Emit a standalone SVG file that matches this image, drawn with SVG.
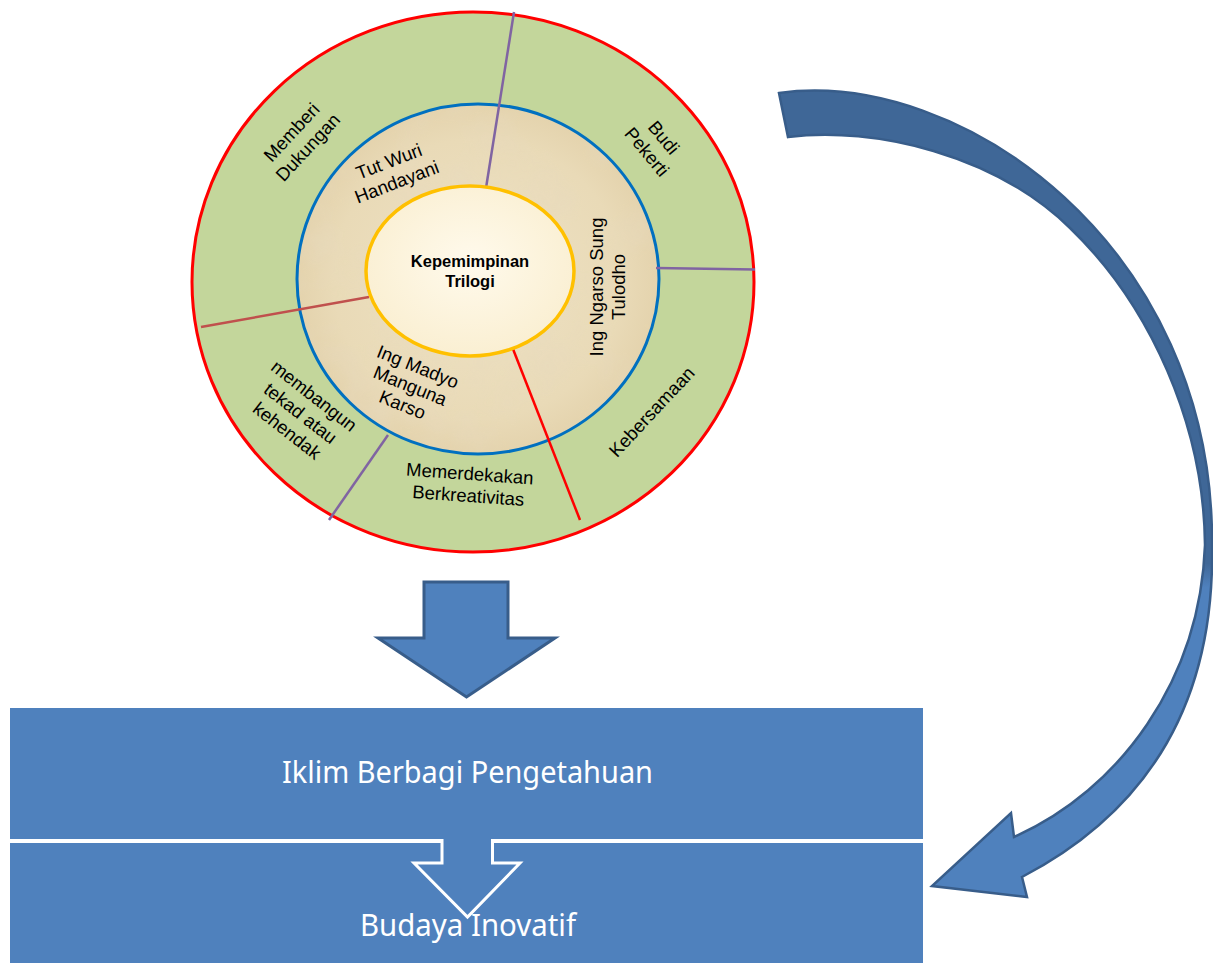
<svg xmlns="http://www.w3.org/2000/svg" width="1213" height="963" viewBox="0 0 1213 963">
<style>
.lbl{font-family:"Liberation Sans",Arial,sans-serif;font-size:18.5px;fill:#000;text-anchor:middle}
.ctr{font-family:"Liberation Sans",Arial,sans-serif;font-size:16.5px;font-weight:bold;fill:#000;text-anchor:middle}
.box{fill:#4f81bd}
.boxtxt{font-family:"Noto Sans","Open Sans",sans-serif;font-size:30px;fill:#fff;text-anchor:middle}
.div{stroke-width:2.5;fill:none}
.purple{stroke:#8064a2}
.redl{stroke:#ff0000}
.brown{stroke:#c0504d}
</style>
<defs>
<radialGradient id="beige" cx="0.5" cy="0.5" r="0.5">
<stop offset="0" stop-color="#eee2c5"/>
<stop offset="0.8" stop-color="#e9dab7"/>
<stop offset="1" stop-color="#e4d3ad"/>
</radialGradient>
<radialGradient id="cream" cx="0.5" cy="0.45" r="0.55">
<stop offset="0" stop-color="#fffaec"/>
<stop offset="1" stop-color="#faefd2"/>
</radialGradient>
<linearGradient id="curve" gradientUnits="userSpaceOnUse" x1="0" y1="0" x2="0" y2="963">
<stop offset="0" stop-color="#3f6797"/>
<stop offset="0.585" stop-color="#3f6797"/>
<stop offset="0.61" stop-color="#4f81bd"/>
<stop offset="1" stop-color="#4f81bd"/>
</linearGradient>
<filter id="paper" x="0" y="0" width="100%" height="100%">
<feTurbulence type="fractalNoise" baseFrequency="0.018" numOctaves="3" seed="7"/>
<feColorMatrix type="matrix" values="0 0 0 0 0.80  0 0 0 0 0.70  0 0 0 0 0.52  0 0 0 1.6 -0.7"/>
<feComposite in2="SourceGraphic" operator="in"/>
</filter>
</defs>

<g id="ring-outer">
<ellipse cx="473" cy="282" rx="281" ry="270" fill="#c3d69b" stroke="#ff0000" stroke-width="3"/>
</g>
<g id="ring-middle">
<ellipse cx="478" cy="279" rx="181" ry="175" fill="url(#beige)"/>
<ellipse cx="478" cy="279" rx="181" ry="175" fill="#fff" filter="url(#paper)" opacity="0.7"/>
<ellipse cx="478" cy="279" rx="181" ry="175" fill="none" stroke="#0070c0" stroke-width="3"/>
</g>
<g id="dividers">
<line class="div purple" x1="514" y1="12" x2="486" y2="188"/>
<line class="div purple" x1="656" y1="268" x2="755" y2="269.5"/>
<line class="div redl" x1="513" y1="349" x2="580" y2="520"/>
<line class="div purple" x1="388" y1="435" x2="329" y2="520"/>
<line class="div brown" x1="369" y1="297" x2="201" y2="327"/>
</g>
<g id="center">
<ellipse cx="470" cy="271" rx="104" ry="85" fill="url(#cream)" stroke="#ffc000" stroke-width="3.5"/>
<text class="ctr" x="470" y="267">Kepemimpinan</text>
<text class="ctr" x="470" y="287">Trilogi</text>
</g>

<g id="label-memberi-dukungan" transform="translate(300,140) rotate(-47)">
<text class="lbl" x="0" y="-5">Memberi</text>
<text class="lbl" x="0" y="17">Dukungan</text>
</g>
<g id="label-tut-wuri" transform="translate(393,172) rotate(-21)">
<text class="lbl" x="0" y="-5">Tut Wuri</text>
<text class="lbl" x="0" y="17">Handayani</text>
</g>
<g id="label-budi-pekerti" transform="translate(655,145) rotate(50)">
<text class="lbl" x="0" y="-5">Budi</text>
<text class="lbl" x="0" y="17">Pekerti</text>
</g>
<g id="label-ing-ngarso" transform="translate(608,287) rotate(-90)">
<text class="lbl" x="0" y="-5">Ing Ngarso Sung</text>
<text class="lbl" x="0" y="17">Tulodho</text>
</g>
<g id="label-kebersamaan" transform="translate(652,412) rotate(-47)">
<text class="lbl" x="0" y="6">Kebersamaan</text>
</g>
<g id="label-memerdekakan" transform="translate(469,485) rotate(4)">
<text class="lbl" x="0" y="-5">Memerdekakan</text>
<text class="lbl" x="0" y="17">Berkreativitas</text>
</g>
<g id="label-ing-madyo" transform="translate(410,386) rotate(22)">
<text class="lbl" x="0" y="-14.5">Ing Madyo</text>
<text class="lbl" x="0" y="6">Manguna</text>
<text class="lbl" x="0" y="26.5">Karso</text>
</g>
<g id="label-membangun" transform="translate(300,414) rotate(38)">
<text class="lbl" x="0" y="-16.5">membangun</text>
<text class="lbl" x="0" y="5.5">tekad atau</text>
<text class="lbl" x="0" y="27.5">kehendak</text>
</g>

<g id="box-iklim">
<rect class="box" x="10" y="708" width="913" height="133"/>
<text class="boxtxt" x="467.5" y="783" textLength="371" lengthAdjust="spacingAndGlyphs">Iklim Berbagi Pengetahuan</text>
</g>
<g id="box-budaya">
<rect class="box" x="10" y="841" width="913" height="122"/>
<text class="boxtxt" x="468" y="936" textLength="216" lengthAdjust="spacingAndGlyphs">Budaya Inovatif</text>
</g>

<g id="connectors">
<path d="M424,582 L508,582 L508,638 L555,638 L466.5,697 L378,638 L424,638 Z" fill="#4f81bd" stroke="#385d8a" stroke-width="3" stroke-linejoin="miter"/>
<line x1="10" y1="841" x2="442" y2="841" stroke="#ffffff" stroke-width="4"/>
<line x1="492.5" y1="841" x2="923" y2="841" stroke="#ffffff" stroke-width="4"/>
<path d="M442,839 L442,863 L414,863 L467.5,917 L520,863 L492.5,863 L492.5,839" fill="#4f81bd" stroke="#ffffff" stroke-width="3" stroke-linejoin="miter"/>
<path d="M779,93 C960,68 1214,245 1212,545 C1215,700 1150,810 1022,877 L1027,897 L932,886 L1011,813 L1014,837 C1120,790 1200,680 1205,545 C1204,425 1150,305 1070,228 C995,155 875,126 788,137 Z" fill="url(#curve)" stroke="#385d8a" stroke-width="2.5" stroke-linejoin="miter"/>
</g>
</svg>
